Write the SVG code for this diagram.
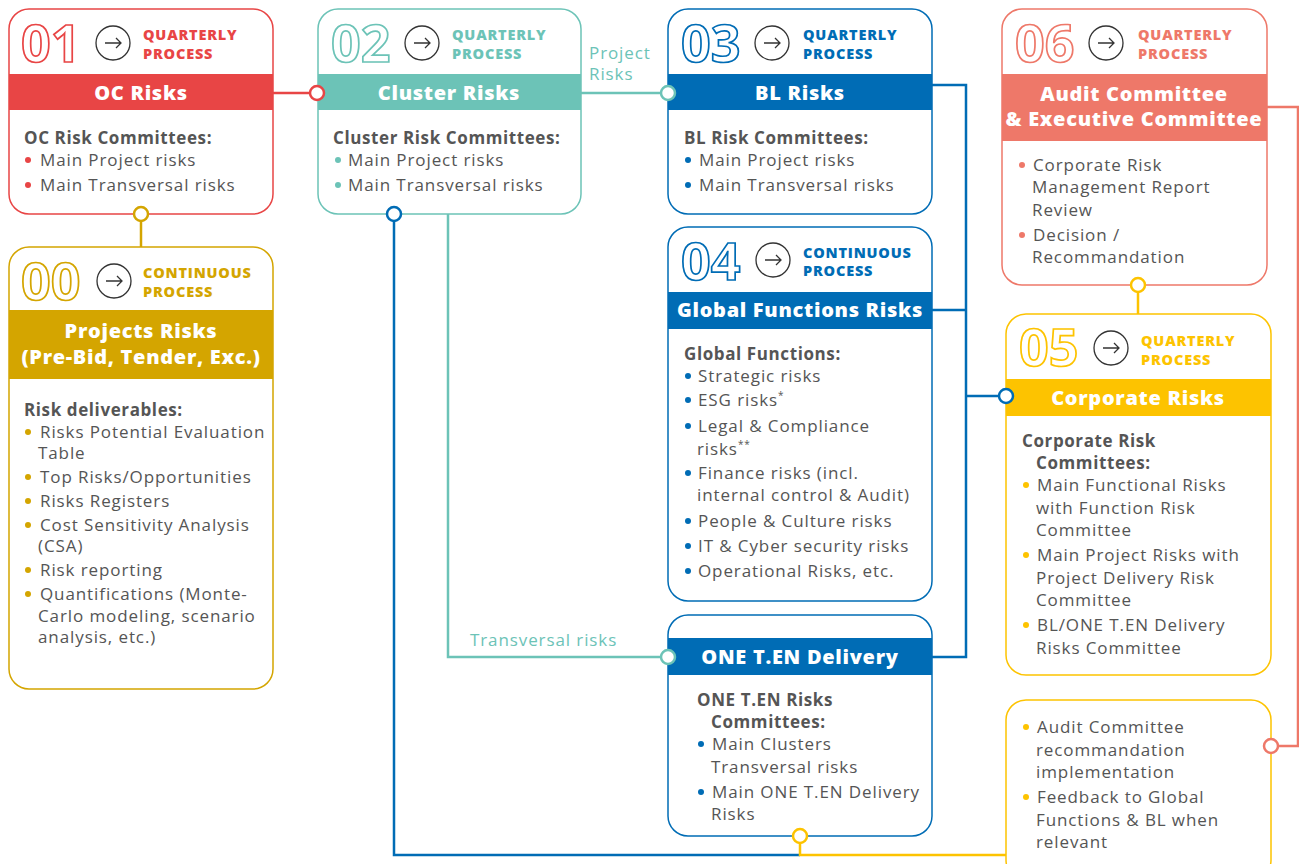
<svg xmlns="http://www.w3.org/2000/svg" width="1299" height="864" viewBox="0 0 1299 864">
<defs>
<style>
.box{fill:#fff;stroke-width:1.5}
.hdr{font-family:"Open Sans","Liberation Sans",sans-serif;font-weight:800;font-size:20px;letter-spacing:0.7px;fill:#fff;text-anchor:middle}
.num{font-family:"Open Sans","Liberation Sans",sans-serif;font-weight:700;font-size:52px;fill:#fff;stroke-width:1.7}
.proc{font-family:"Open Sans","Liberation Sans",sans-serif;font-weight:800;font-size:14.5px;letter-spacing:0.8px}
.t{font-family:"Open Sans","Liberation Sans",sans-serif;font-size:17px;letter-spacing:0.9px;fill:#555}
.b{font-weight:700;letter-spacing:0.6px}
.arr{fill:none;stroke:#333;stroke-width:1.3}
.ln{fill:none;stroke-width:2.5}
.dot{fill:#fff;stroke-width:2.5}
</style>
<g id="arrow"><circle class="arr" cx="0" cy="0" r="17"/><path class="arr" d="M-8 0H8M3-5L8 0L3 5"/></g>
</defs>
<rect width="1299" height="864" fill="#fff"/>

<g id="connectors">
<path class="ln" stroke="#E84545" d="M273 93H317"/>
<path class="ln" stroke="#6CC3B7" d="M581 93H668"/>
<path class="ln" stroke="#6CC3B7" d="M448 214V657H668"/>
<path class="ln" stroke="#D4A500" d="M141 214V247"/>
<path class="ln" stroke="#006CB5" d="M394 214V855H800"/>
<path class="ln" stroke="#FDC300" d="M800 836V855H1006"/>
<path class="ln" stroke="#006CB5" d="M932 85H966V657H932M932 310H966M966 396H1006"/>
<path class="ln" stroke="#FDC300" d="M1138 285V314"/>
<path class="ln" stroke="#EE7869" d="M1267 107H1298V746H1271"/>
<text class="t" x="589" y="59" style="fill:#6CC3B7">Project</text>
<text class="t" x="589" y="80" style="fill:#6CC3B7">Risks</text>
<text class="t" x="470" y="646" style="fill:#6CC3B7">Transversal risks</text>
</g>

<g id="n01">
<rect class="box" stroke="#E84545" x="9" y="9" width="264" height="205" rx="20"/>
<rect x="9" y="74" width="264" height="36" fill="#E84545"/>
<text class="num" stroke="#E84545" x="21" y="62">01</text>
<use href="#arrow" x="113" y="43"/>
<text class="proc" fill="#E84545" x="143" y="40">QUARTERLY</text>
<text class="proc" fill="#E84545" x="143" y="59">PROCESS</text>
<text class="hdr" x="141" y="100">OC Risks</text>
<text class="t b" x="24" y="144">OC Risk Committees:</text>
<circle cx="28" cy="160" r="3" fill="#E84545"/><text class="t" x="40" y="166">Main Project risks</text>
<circle cx="28" cy="185" r="3" fill="#E84545"/><text class="t" x="40" y="191">Main Transversal risks</text>
</g>

<g id="n02">
<rect class="box" stroke="#6CC3B7" x="318" y="9" width="263" height="205" rx="20"/>
<rect x="318" y="74" width="263" height="36" fill="#6CC3B7"/>
<text class="num" stroke="#6CC3B7" x="331" y="62">02</text>
<use href="#arrow" x="422" y="43"/>
<text class="proc" fill="#6CC3B7" x="452" y="40">QUARTERLY</text>
<text class="proc" fill="#6CC3B7" x="452" y="59">PROCESS</text>
<text class="hdr" x="449" y="100">Cluster Risks</text>
<text class="t b" x="333" y="144">Cluster Risk Committees:</text>
<circle cx="338" cy="160" r="3" fill="#6CC3B7"/><text class="t" x="348" y="166">Main Project risks</text>
<circle cx="338" cy="185" r="3" fill="#6CC3B7"/><text class="t" x="348" y="191">Main Transversal risks</text>
</g>

<g id="n03">
<rect class="box" stroke="#006CB5" x="668" y="9" width="264" height="205" rx="20"/>
<rect x="668" y="74" width="264" height="36" fill="#006CB5"/>
<text class="num" stroke="#006CB5" x="681" y="62">03</text>
<use href="#arrow" x="772" y="43"/>
<text class="proc" fill="#006CB5" x="803" y="40">QUARTERLY</text>
<text class="proc" fill="#006CB5" x="803" y="59">PROCESS</text>
<text class="hdr" x="800" y="100">BL Risks</text>
<text class="t b" x="684" y="144">BL Risk Committees:</text>
<circle cx="688" cy="160" r="3" fill="#006CB5"/><text class="t" x="699" y="166">Main Project risks</text>
<circle cx="688" cy="185" r="3" fill="#006CB5"/><text class="t" x="699" y="191">Main Transversal risks</text>
</g>

<g id="n04">
<rect class="box" stroke="#006CB5" x="668" y="227" width="264" height="374" rx="20"/>
<rect x="668" y="292" width="264" height="37" fill="#006CB5"/>
<text class="num" stroke="#006CB5" x="681" y="280">04</text>
<use href="#arrow" x="773" y="260"/>
<text class="proc" fill="#006CB5" x="803" y="258">CONTINUOUS</text>
<text class="proc" fill="#006CB5" x="803" y="276">PROCESS</text>
<text class="hdr" x="800" y="317">Global Functions Risks</text>
<text class="t b" x="684" y="360">Global Functions:</text>
<circle cx="688" cy="376" r="3" fill="#006CB5"/><text class="t" x="698" y="382">Strategic risks</text>
<circle cx="688" cy="400" r="3" fill="#006CB5"/><text class="t" x="698" y="406">ESG risks<tspan font-size="10" dy="-7">*</tspan></text>
<circle cx="688" cy="426" r="3" fill="#006CB5"/><text class="t" x="698" y="432">Legal &amp; Compliance</text>
<text class="t" x="697" y="455">risks<tspan font-size="10" dy="-7">**</tspan></text>
<circle cx="688" cy="473" r="3" fill="#006CB5"/><text class="t" x="698" y="479">Finance risks (incl.</text>
<text class="t" x="697" y="501">internal control &amp; Audit)</text>
<circle cx="688" cy="521" r="3" fill="#006CB5"/><text class="t" x="698" y="527">People &amp; Culture risks</text>
<circle cx="688" cy="546" r="3" fill="#006CB5"/><text class="t" x="698" y="552">IT &amp; Cyber security risks</text>
<circle cx="688" cy="571" r="3" fill="#006CB5"/><text class="t" x="698" y="577">Operational Risks, etc.</text>
</g>

<g id="nOneTen">
<rect class="box" stroke="#006CB5" x="668" y="615" width="264" height="221" rx="20"/>
<rect x="668" y="638" width="264" height="37" fill="#006CB5"/>
<text class="hdr" x="800" y="664">ONE T.EN Delivery</text>
<text class="t b" x="697" y="706">ONE T.EN Risks</text>
<text class="t b" x="711" y="728">Committees:</text>
<circle cx="701" cy="744" r="3" fill="#006CB5"/><text class="t" x="712" y="750">Main Clusters</text>
<text class="t" x="711" y="773">Transversal risks</text>
<circle cx="701" cy="792" r="3" fill="#006CB5"/><text class="t" x="712" y="798">Main ONE T.EN Delivery</text>
<text class="t" x="711" y="820">Risks</text>
</g>

<g id="n00">
<rect class="box" stroke="#D4A500" x="9" y="247" width="264" height="442" rx="20"/>
<rect x="9" y="310" width="264" height="69" fill="#D4A500"/>
<text class="num" stroke="#D4A500" x="21" y="300">00</text>
<use href="#arrow" x="114" y="281"/>
<text class="proc" fill="#D4A500" x="143" y="278">CONTINUOUS</text>
<text class="proc" fill="#D4A500" x="143" y="297">PROCESS</text>
<text class="hdr" x="141" y="338">Projects Risks</text>
<text class="hdr" x="141" y="364">(Pre-Bid, Tender, Exc.)</text>
<text class="t b" x="24" y="416">Risk deliverables:</text>
<circle cx="28" cy="432" r="3" fill="#D4A500"/><text class="t" x="40" y="438">Risks Potential Evaluation</text>
<text class="t" x="38" y="459">Table</text>
<circle cx="28" cy="477" r="3" fill="#D4A500"/><text class="t" x="40" y="483">Top Risks/Opportunities</text>
<circle cx="28" cy="501" r="3" fill="#D4A500"/><text class="t" x="40" y="507">Risks Registers</text>
<circle cx="28" cy="525" r="3" fill="#D4A500"/><text class="t" x="40" y="531">Cost Sensitivity Analysis</text>
<text class="t" x="38" y="552">(CSA)</text>
<circle cx="28" cy="570" r="3" fill="#D4A500"/><text class="t" x="40" y="576">Risk reporting</text>
<circle cx="28" cy="594" r="3" fill="#D4A500"/><text class="t" x="40" y="600">Quantifications (Monte-</text>
<text class="t" x="38" y="622">Carlo modeling, scenario</text>
<text class="t" x="38" y="643">analysis, etc.)</text>
</g>

<g id="n06">
<rect class="box" stroke="#EE7869" x="1002" y="9" width="265" height="276" rx="20"/>
<rect x="1002" y="74" width="265" height="67" fill="#EE7869"/>
<text class="num" stroke="#EE7869" x="1015" y="62">06</text>
<use href="#arrow" x="1106" y="43"/>
<text class="proc" fill="#EE7869" x="1138" y="40">QUARTERLY</text>
<text class="proc" fill="#EE7869" x="1138" y="59">PROCESS</text>
<text class="hdr" x="1134" y="101">Audit Committee</text>
<text class="hdr" x="1134" y="126">&amp; Executive Committee</text>
<circle cx="1022" cy="165" r="3" fill="#EE7869"/><text class="t" x="1033" y="171">Corporate Risk</text>
<text class="t" x="1032" y="193">Management Report</text>
<text class="t" x="1032" y="216">Review</text>
<circle cx="1022" cy="235" r="3" fill="#EE7869"/><text class="t" x="1033" y="241">Decision /</text>
<text class="t" x="1032" y="263">Recommandation</text>
</g>

<g id="n05">
<rect class="box" stroke="#FDC300" x="1006" y="314" width="265" height="361" rx="20"/>
<rect x="1006" y="379" width="265" height="37" fill="#FDC300"/>
<text class="num" stroke="#FDC300" x="1019" y="366">05</text>
<use href="#arrow" x="1111" y="348"/>
<text class="proc" fill="#FDC300" x="1141" y="346">QUARTERLY</text>
<text class="proc" fill="#FDC300" x="1141" y="365">PROCESS</text>
<text class="hdr" x="1138" y="405">Corporate Risks</text>
<text class="t b" x="1022" y="447">Corporate Risk</text>
<text class="t b" x="1036" y="469">Committees:</text>
<circle cx="1026" cy="485" r="3" fill="#FDC300"/><text class="t" x="1037" y="491">Main Functional Risks</text>
<text class="t" x="1036" y="514">with Function Risk</text>
<text class="t" x="1036" y="536">Committee</text>
<circle cx="1026" cy="555" r="3" fill="#FDC300"/><text class="t" x="1037" y="561">Main Project Risks with</text>
<text class="t" x="1036" y="584">Project Delivery Risk</text>
<text class="t" x="1036" y="606">Committee</text>
<circle cx="1026" cy="625" r="3" fill="#FDC300"/><text class="t" x="1037" y="631">BL/ONE T.EN Delivery</text>
<text class="t" x="1036" y="654">Risks Committee</text>
</g>

<g id="n07">
<rect class="box" stroke="#FDC300" x="1006" y="700" width="265" height="180" rx="20"/>
<circle cx="1026" cy="727" r="3" fill="#FDC300"/><text class="t" x="1037" y="733">Audit Committee</text>
<text class="t" x="1036" y="756">recommandation</text>
<text class="t" x="1036" y="778">implementation</text>
<circle cx="1026" cy="797" r="3" fill="#FDC300"/><text class="t" x="1037" y="803">Feedback to Global</text>
<text class="t" x="1036" y="826">Functions &amp; BL when</text>
<text class="t" x="1036" y="848">relevant</text>
</g>

<g id="ports">
<circle class="dot" stroke="#E84545" cx="317" cy="93" r="7"/>
<circle class="dot" stroke="#6CC3B7" cx="668" cy="93" r="7"/>
<circle class="dot" stroke="#6CC3B7" cx="668" cy="657" r="7"/>
<circle class="dot" stroke="#D4A500" cx="141" cy="214" r="7"/>
<circle class="dot" stroke="#006CB5" cx="394" cy="214" r="7"/>
<circle class="dot" stroke="#FDC300" cx="800" cy="836" r="7"/>
<circle class="dot" stroke="#006CB5" cx="1006" cy="396" r="7"/>
<circle class="dot" stroke="#FDC300" cx="1138" cy="285" r="7"/>
<circle class="dot" stroke="#EE7869" cx="1271" cy="746" r="7"/>
</g>
</svg>
